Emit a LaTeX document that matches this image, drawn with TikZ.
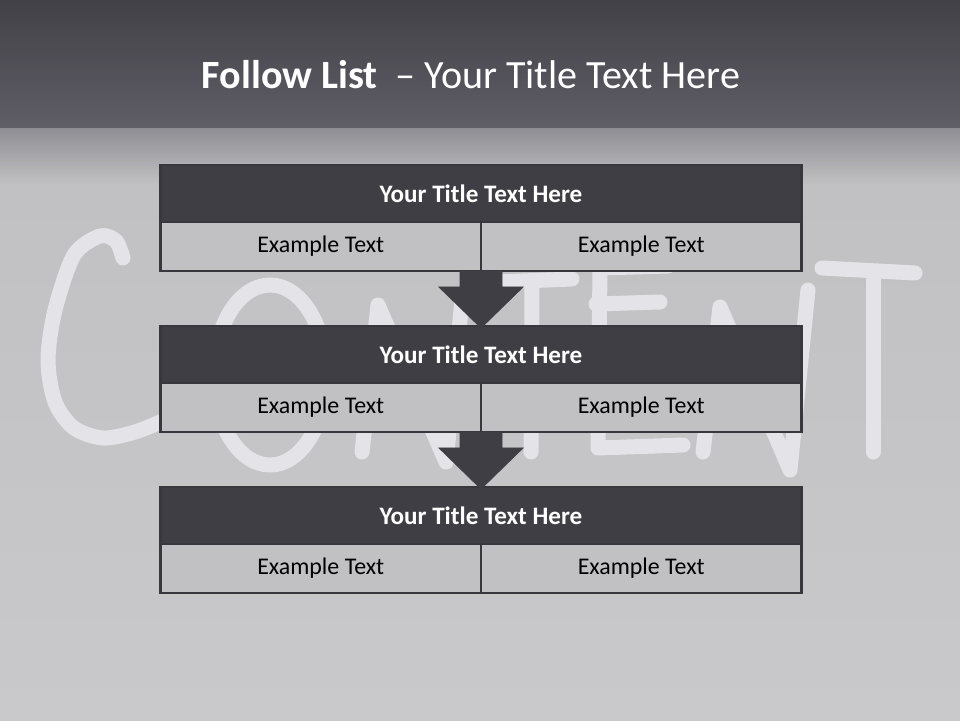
\documentclass[tikz,border=0pt]{standalone}
\usepackage{fontspec}
\setmainfont{Carlito}
\usetikzlibrary{positioning, calc}

\definecolor{topdark}{HTML}{424148}
\definecolor{topmid}{HTML}{5F5E66}
\definecolor{fadegray}{HTML}{8F8E94}
\definecolor{bggray}{HTML}{C1C1C3}
\definecolor{bglow}{HTML}{C9C9CB}
\definecolor{barfill}{HTML}{3F3E45}
\definecolor{cellfill}{HTML}{C1C1C3}
\definecolor{edge}{HTML}{38373D}
\definecolor{chalk}{HTML}{E4E4E8}

\begin{document}
\begin{tikzpicture}[
    x=0.02cm, y=-0.02cm,
    headbar/.style = {rectangle, minimum width=12.82cm, minimum height=1.14cm, inner sep=0pt, outer sep=0pt,
                      fill=barfill, draw=edge, line width=1.6pt, text=white,
                      font=\fontsize{14.3}{17}\selectfont\bfseries},
    cell/.style = {rectangle, minimum width=6.41cm, minimum height=0.98cm, inner sep=0pt, outer sep=0pt,
                   fill=cellfill, draw=edge, line width=1.6pt, font=\fontsize{13.6}{16}\selectfont},
    flowarrow/.style = {fill=barfill, draw=barfill, line width=0.5pt},
    chalkline/.style = {draw=chalk, line width=0.3cm, line cap=round, line join=round}
]

    \useasboundingbox (0,0) rectangle (960,720);

    % Background
    \fill[top color=topdark, bottom color=topmid] (0,0) rectangle (960,128);
    \fill[top color=fadegray, bottom color=bggray] (0,128) rectangle (960,185);
    \fill[top color=bggray, bottom color=bglow] (0,185) rectangle (960,720);

    % Watermark letters
    \draw[chalkline] plot[smooth] coordinates {(123,258) (116,241) (100,236) (74,255) (55,310) (48,360) (55,402) (74,428) (103,438) (135,432) (165,420)};
    \draw[chalkline] (270,375) ellipse [x radius=56, y radius=90];
    \draw[chalkline] (362,452) -- (378,305) -- (446,462) -- (462,300);
    \draw[chalkline] (497,282) -- (572,279);
    \draw[chalkline] (532,281) -- (531,452);
    \draw[chalkline] (668,266) -- (600,268) -- (598,448) -- (683,445);
    \draw[chalkline] (596,304) -- (660,302);
    \draw[chalkline] (703,452) -- (720,307) -- (790,470) -- (808,290);
    \draw[chalkline] (822,268) -- (915,273);
    \draw[chalkline] (873,280) -- (873,452);

    % Title
    \node[font=\fontsize{22.8}{27}\selectfont, text=white] (title) at (471,75)
        {\textbf{Follow List}\ \ – Your Title Text Here};

    % Step 1
    \node[headbar] (head1) at (481,193.5) {Your Title Text Here};
    \node[cell, anchor=north west] (a1) at (head1.south west) {Example Text};
    \node[cell, anchor=north east] (b1) at (head1.south east) {Example Text};

    % Step 2
    \node[headbar, below=2.08cm of head1] (head2) {Your Title Text Here};
    \node[cell, anchor=north west] (a2) at (head2.south west) {Example Text};
    \node[cell, anchor=north east] (b2) at (head2.south east) {Example Text};

    % Step 3
    \node[headbar, below=2.08cm of head2] (head3) {Your Title Text Here};
    \node[cell, anchor=north west] (a3) at (head3.south west) {Example Text};
    \node[cell, anchor=north east] (b3) at (head3.south east) {Example Text};

    % Arrows
    \draw[flowarrow] ($(a1.south east)+(-21,0)$) -- ++(0,16) -- ++(-21,0)
        -- ($(head2.north)+(0,2)$) -- ($(a1.south east)+(42,16)$) -- ++(-21,0)
        -- ++(0,-16) -- cycle;
    \draw[flowarrow] ($(a2.south east)+(-21,0)$) -- ++(0,16) -- ++(-21,0)
        -- ($(head3.north)+(0,2)$) -- ($(a2.south east)+(42,16)$) -- ++(-21,0)
        -- ++(0,-16) -- cycle;

\end{tikzpicture}
\end{document}
